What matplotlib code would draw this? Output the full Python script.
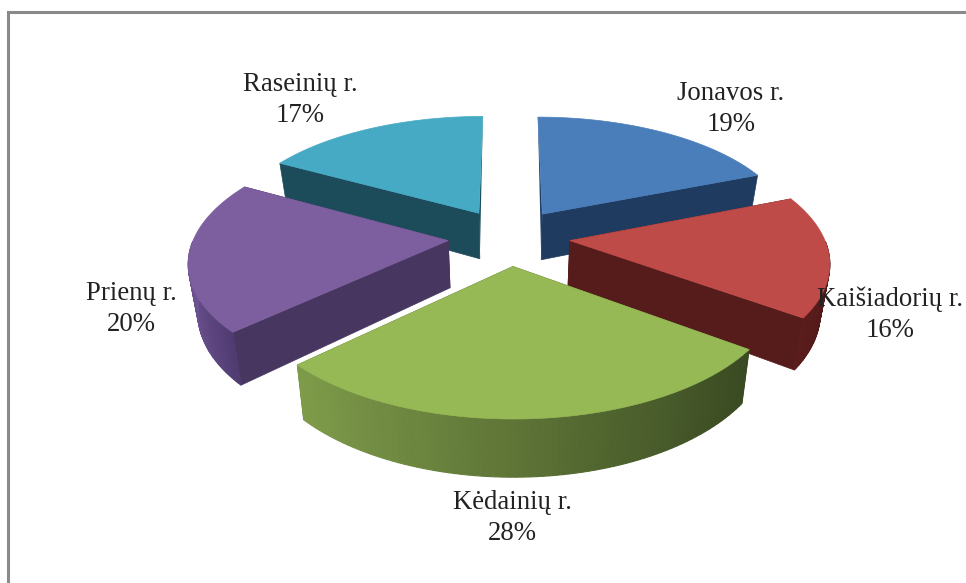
import matplotlib
matplotlib.use('Agg')
import matplotlib.pyplot as plt
import matplotlib.colors as mcolors
import numpy as np

# data
names = ['Jonavos r.', 'Kaišiadorių r.', 'Kėdainių r.', 'Prienų r.', 'Raseinių r.']
shares = [19, 16, 28, 20, 17]
top_colors = ['#4A7EBB', '#BE4B48', '#96B955', '#7D5FA0', '#46AAC5']
wall_colors = ['#1F3B60', '#561C1B', '#4A5F2A', '#47365F', '#1C4C59']
side_left = ['#1F3B60', '#5C1D1C', '#7F9C4A', '#6F5494', '#1C4C59']
side_right = ['#1F3B60', '#4E1817', '#3A4A22', '#4F3B70', '#1C4C59']
label_xy = [(731, 109), (890, 315), (512, 518), (131, 309), (300, 100)]

# pie geometry in pixels
cx, cy = 509, 237
S = 254      # radius
k = 0.467    # flattening
p = 0.155    # perspective
e = 0.24     # explosion
H = 47       # thickness


def project(u, v, low=False):
    s = 1 / (1 - p * v)
    x = cx + S * u * s
    y = cy + S * k * v * s
    if low:
        x = cx + (x - cx) * 0.97
        y = y + H * s
    return x, y


def point(theta, r, mid):
    u = e * np.sin(mid) + r * np.sin(theta)
    v = -e * np.cos(mid) - r * np.cos(theta)
    return u, v


fig = plt.figure(figsize=(9.66, 5.83), dpi=100)
ax = fig.add_axes([0, 0, 1, 1])
ax.set_xlim(0, 966)
ax.set_ylim(583, 0)
ax.axis('off')

# grey picture frame
ax.plot([8, 8, 966], [583, 12, 12], color='#8a8a8a', lw=2.2, solid_joinstyle='miter')

edges = np.cumsum([0] + shares) / sum(shares) * 2 * np.pi
order = [0, 4, 1, 3, 2]  # back to front

for i in order:
    a0, a1 = edges[i], edges[i + 1]
    mid = (a0 + a1) / 2
    th = np.linspace(a0, a1, 80)
    tip = point(a0, 0, mid)
    tx, ty = project(*tip)
    bx, by = project(*tip, low=True)

    # radial walls
    for a in (a0, a1):
        end = point(a, 1, mid)
        ex, ey = project(*end)
        lx, ly = project(*end, low=True)
        if np.cos(a) > 0.9:
            # wall turned away, only a sliver by the tip shows
            ax.fill([tx, ex, bx], [ty, ey, by], color=wall_colors[i], lw=0)
        else:
            ax.fill([tx, ex, lx, bx], [ty, ey, ly, by], color=wall_colors[i], lw=0.5)

    # outer rim, only the part facing the viewer
    vis = th[-np.cos(th) > 0]
    if len(vis) > 1:
        lo, hi = np.sin(vis).max(), np.sin(vis).min()
        c0 = np.array(mcolors.to_rgb(side_left[i]))
        c1 = np.array(mcolors.to_rgb(side_right[i]))
        for t0, t1 in zip(vis[:-1], vis[1:]):
            x0, y0 = project(*point(t0, 1, mid))
            x1, y1 = project(*point(t1, 1, mid))
            x2, y2 = project(*point(t1, 1, mid), low=True)
            x3, y3 = project(*point(t0, 1, mid), low=True)
            f = (np.sin(t0) - hi) / (lo - hi)
            col = c0 + (c1 - c0) * f
            ax.fill([x0, x1, x2, x3], [y0, y1, y2, y3], color=col, lw=0.8)

    # top face
    pts = [project(*tip)] + [project(*point(t, 1, mid)) for t in th]
    xs, ys = zip(*pts)
    ax.fill(xs, ys, color=top_colors[i], lw=0.5)

for name, share, (x, y) in zip(names, shares, label_xy):
    ax.text(x, y, f'{name}\n{share}%', ha='center', va='center', color='#222222',
            family='Liberation Serif', fontsize=19.3, linespacing=1.3)

fig.savefig('out.png', dpi=100)
